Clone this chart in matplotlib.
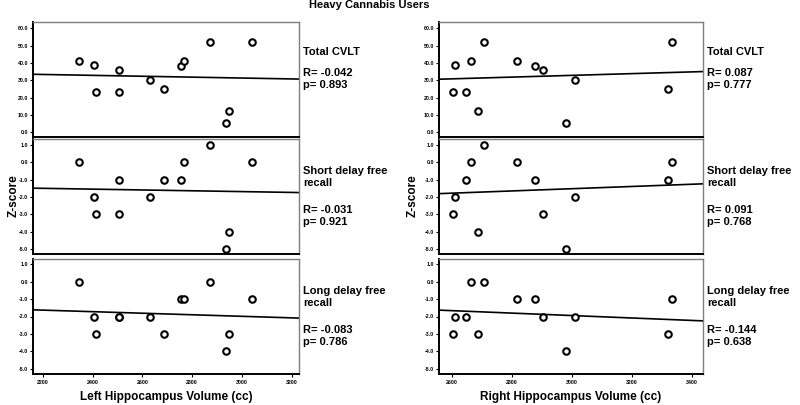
import numpy as np
import matplotlib
matplotlib.use("Agg")
import matplotlib.pyplot as plt

plt.rcParams['font.family'] = ['Liberation Sans', 'DejaVu Sans']

# one entry per subject (same order in every list)
left_volume = [2344, 2406, 2414, 2507, 2507, 2632, 2686, 2754, 2767, 2872, 3040, 2935, 2950]
right_volume = [2663, 2612, 2605, 2903, 2646, 3012, 3320, 2878, 2817, 2708, 3333, 2980, 2687]
total_cvlt = [41, 39, 23, 36, 23, 30, 25, 38, 41, 52, 52, 5, 12]
short_delay = [0, -2, -3, -3, -1, -2, -1, -1, 0, 1, 0, -5, -4]
long_delay = [0, -2, -3, -2, -2, -2, -3, -1, -1, 0, -1, -4, -3]

row_names = ["Total CVLT", "Short delay free\nrecall", "Long delay free\nrecall"]
left_stats = [("-0.042", "0.893"), ("-0.031", "0.921"), ("-0.083", "0.786")]
right_stats = [("0.087", "0.777"), ("0.091", "0.768"), ("-0.144", "0.638")]

left_ticks = [2200, 2400, 2600, 2800, 3000, 3200]
right_ticks = [2600, 2800, 3000, 3200, 3400]

fig = plt.figure(figsize=(8, 4.05), dpi=100)

rows = [total_cvlt, short_delay, long_delay]
row_bottoms = [1 - 137 / 405, 1 - 254 / 405, 1 - 374 / 405]
row_height = 115 / 405
row_ylims = [(-2.8, 63.6), (-5.3, 1.35), (-5.3, 1.3)]
row_yticks = [np.arange(0, 61, 10), np.arange(-5, 2, 1), np.arange(-5, 2, 1)]

sides = [
    (left_volume, 33 / 800, 266 / 800, (2160, 3230), left_ticks, left_stats,
     "Left Hippocampus Volume (cc)", 14 / 800),
    (right_volume, 439 / 800, 264 / 800, (2557, 3437), right_ticks, right_stats,
     "Right Hippocampus Volume (cc)", 413 / 800),
]

for vol, x0, w, xlim, xticks, stats, xlabel, zx in sides:
    for i, scores in enumerate(rows):
        ax = fig.add_axes([x0, row_bottoms[i], w, row_height])
        ax.scatter(vol, scores, s=22, facecolors='white', edgecolors='black',
                   linewidths=1.5, zorder=3)

        # fit line across the whole axis
        slope, icpt = np.polyfit(vol, scores, 1)
        xs = np.array(xlim)
        ax.plot(xs, slope * xs + icpt, color='black', lw=1.2)

        ax.set_xlim(xlim)
        ax.set_ylim(row_ylims[i])
        ax.set_yticks(row_yticks[i])
        ax.set_yticklabels([f"{t:.1f}" for t in row_yticks[i]],
                           fontsize=3.8, fontweight='bold')
        ax.tick_params(axis='y', length=2.5, width=0.8, pad=1)

        if i == 2:
            ax.set_xticks(xticks)
            ax.set_xticklabels([str(t) for t in xticks], fontsize=3.8,
                               fontweight='bold')
            ax.tick_params(axis='x', length=2.5, width=0.8, pad=2)
            ax.set_xlabel(xlabel, fontsize=8.5, fontweight='bold', labelpad=4)
        else:
            ax.set_xticks([])

        for side in ['left', 'bottom']:
            ax.spines[side].set_linewidth(1.4)
            ax.spines[side].set_color('black')
        for side in ['top', 'right']:
            ax.spines[side].set_linewidth(1.0)
            ax.spines[side].set_color('#7f7f7f')

        # label and stats to the right of the panel
        name = row_names[i]
        r, p = stats[i]
        tx = x0 + w + 4 / 800
        if i == 0:
            ty = row_bottoms[i] + row_height - 30 / 405
            fig.text(tx, ty, name, fontsize=8, fontweight='bold', va='center')
            fig.text(tx, ty - 27 / 405, f"R= {r}\np= {p}", fontsize=8,
                     fontweight='bold', va='center', linespacing=1.15)
        else:
            ty = row_bottoms[i] + row_height - 38 / 405
            fig.text(tx, ty, name, fontsize=8, fontweight='bold', va='center',
                     linespacing=1.15)
            fig.text(tx, ty - 39 / 405, f"R= {r}\np= {p}", fontsize=8,
                     fontweight='bold', va='center', linespacing=1.15)

    fig.text(zx, 1 - 196 / 405, "Z-score", fontsize=8.5, fontweight='bold',
             rotation=90, ha='center', va='center')

fig.text(369 / 800, 1 - 5 / 405, "Heavy Cannabis Users", fontsize=8,
         fontweight='bold', ha='center', va='center')

fig.savefig("out.png", dpi=100)
